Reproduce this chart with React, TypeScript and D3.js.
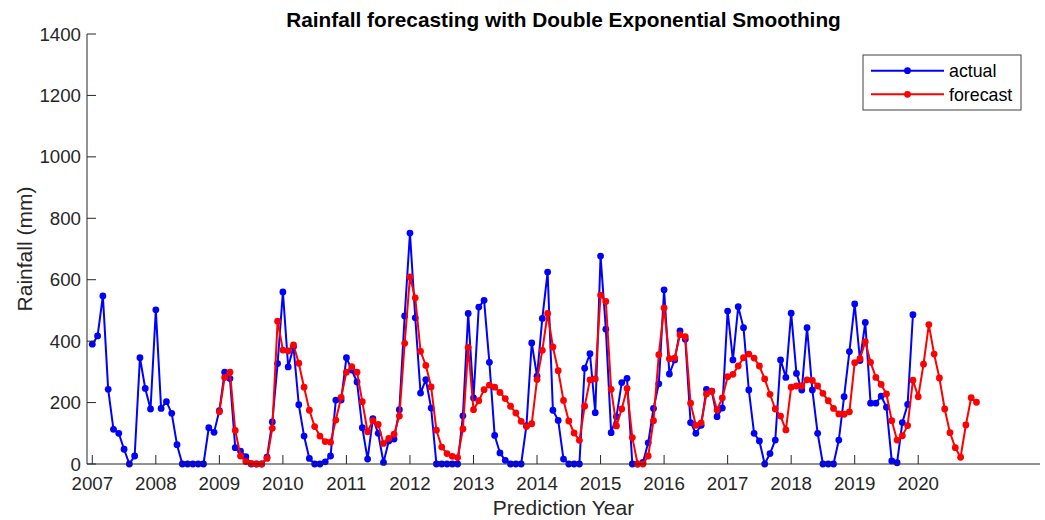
import React from "react";
import * as d3 from "d3";

// Monthly rainfall (mm), Jan 2007 – Dec 2019
const actualRainfall = [
  390, 417, 547, 243, 113, 100, 48, 0, 26, 346, 246, 179,
  502, 181, 203, 165, 63, 0, 0, 0, 0, 0, 118, 103,
  174, 299, 278, 53, 42, 24, 0, 0, 0, 22, 137, 327,
  560, 316, 382, 193, 91, 18, 0, 0, 7, 26, 208, 208,
  346, 306, 267, 118, 16, 148, 100, 5, 75, 81, 177, 482,
  752, 476, 231, 275, 182, 0, 0, 0, 0, 0, 157, 490,
  215, 511, 533, 331, 93, 36, 12, 0, 0, 0, 125, 394,
  286, 474, 625, 175, 142, 16, 0, 0, 0, 312, 359, 167,
  677, 439, 102, 154, 265, 279, 0, 0, 5, 69, 181, 261,
  567, 293, 339, 433, 406, 135, 100, 126, 243, 237, 154, 182,
  498, 339, 512, 444, 241, 100, 75, 0, 34, 78, 339, 282,
  491, 295, 241, 444, 241, 100, 0, 0, 0, 78, 219, 366,
  521, 337, 461, 198, 198, 221, 185, 10, 4, 135, 194, 486,
];

// Double exponential smoothing output (mm), Jan 2009 – Dec 2020
const forecastRainfall = [
  170, 282, 299, 109, 26, 8, 2, 0, 0, 18, 116, 465,
  371, 368, 388, 328, 250, 175, 122, 91, 73, 71, 143, 217,
  299, 317, 299, 203, 105, 141, 129, 67, 83, 97, 156, 393,
  609, 541, 367, 321, 251, 110, 55, 34, 25, 21, 114, 380,
  177, 206, 242, 257, 250, 233, 213, 188, 166, 139, 122, 131,
  275, 370, 490, 381, 304, 207, 140, 101, 77, 188, 274, 277,
  550, 529, 243, 124, 179, 246, 86, 0, 0, 26, 141, 356,
  508, 343, 345, 421, 415, 198, 126, 134, 228, 237, 176, 215,
  284, 292, 319, 346, 358, 345, 319, 277, 227, 179, 156, 111,
  250, 254, 254, 274, 272, 254, 230, 206, 181, 163, 162, 170,
  330, 343, 398, 331, 282, 259, 228, 141, 78, 92, 125, 273,
  219, 325, 454, 358, 280, 179, 102, 53, 22, 127, 216, 201,
];

const actualStartMonth = 1; // month index of Jan 2007
const forecastStartMonth = 25; // month index of Jan 2009
const yearLabels = [2007, 2008, 2009, 2010, 2011, 2012, 2013, 2014, 2015, 2016, 2017, 2018, 2019, 2020];
const yTicks = [0, 200, 400, 600, 800, 1000, 1200, 1400];

const W = 1045;
const H = 520;
const FONT = "'Liberation Sans', Arial, Helvetica, sans-serif";
const INK = "#262626";

export default function App() {
  const x = d3.scaleLinear().domain([0, 180]).range([87, 1040]);
  const y = d3.scaleLinear().domain([0, 1400]).range([464, 34]);

  const actualPts = actualRainfall.map((v, i) => [actualStartMonth + i, v] as [number, number]);
  const forecastPts = forecastRainfall.map((v, i) => [forecastStartMonth + i, v] as [number, number]);

  const line = d3
    .line<[number, number]>()
    .x((d) => x(d[0]))
    .y((d) => y(d[1]));

  const x0 = x(0);
  const x1 = x(180);
  const yBase = y(0);
  const yTop = y(1400);
  const tickLen = 9;

  const series = [
    { name: "actual", pts: actualPts, color: "#0000ff" },
    { name: "forecast", pts: forecastPts, color: "#ff0000" },
  ];

  return (
    <svg
      width={W}
      height={H}
      style={{ position: "absolute", left: 0, top: 0, background: "#fff" }}
      fontFamily={FONT}
    >
      <rect x={0} y={0} width={W} height={H} fill="#fff" />

      {/* series */}
      {series.map((s) => (
        <g key={s.name}>
          <path d={line(s.pts) || ""} fill="none" stroke={s.color} strokeWidth={2} strokeLinejoin="round" />
          {s.pts.map((d, i) => (
            <circle key={i} cx={x(d[0])} cy={y(d[1])} r={3.4} fill={s.color} />
          ))}
        </g>
      ))}

      {/* axes */}
      <line x1={x0} y1={yTop} x2={x0} y2={yBase} stroke={INK} strokeWidth={1} />
      <line x1={x0} y1={yBase} x2={x1} y2={yBase} stroke={INK} strokeWidth={1} />

      {yTicks.map((t) => (
        <g key={t}>
          <line x1={x0} x2={x0 + tickLen} y1={y(t)} y2={y(t)} stroke={INK} strokeWidth={1} />
          <text x={81} y={y(t) + 6.5} textAnchor="end" fontSize={18.7} fill={INK}>
            {t}
          </text>
        </g>
      ))}

      {yearLabels.map((yr, i) => {
        const m = actualStartMonth + i * 12;
        return (
          <g key={yr}>
            <line x1={x(m)} x2={x(m)} y1={yBase} y2={yBase - tickLen} stroke={INK} strokeWidth={1} />
            <text x={x(m)} y={489.5} textAnchor="middle" fontSize={18.7} fill={INK}>
              {yr}
            </text>
          </g>
        );
      })}

      {/* labels */}
      <text x={(x0 + x1) / 2} y={27} textAnchor="middle" fontSize={20.8} fontWeight="bold" fill="#000">
        Rainfall forecasting with Double Exponential Smoothing
      </text>
      <text x={(x0 + x1) / 2} y={515} textAnchor="middle" fontSize={21} fill={INK}>
        Prediction Year
      </text>
      <text
        transform={`translate(32,${(yTop + yBase) / 2}) rotate(-90)`}
        textAnchor="middle"
        fontSize={21}
        fill={INK}
      >
        Rainfall (mm)
      </text>

      {/* legend */}
      <g>
        <rect x={863} y={55} width={158} height={55} fill="#fff" stroke="#404040" strokeWidth={1} />
        {series.map((s, i) => {
          const cy = 70.7 + i * 23.6;
          return (
            <g key={s.name}>
              <line x1={871} x2={944} y1={cy} y2={cy} stroke={s.color} strokeWidth={2} />
              <circle cx={907.5} cy={cy} r={3.4} fill={s.color} />
              <text x={949} y={cy + 6.2} fontSize={17.8} fill="#000">
                {s.name}
              </text>
            </g>
          );
        })}
      </g>
    </svg>
  );
}
